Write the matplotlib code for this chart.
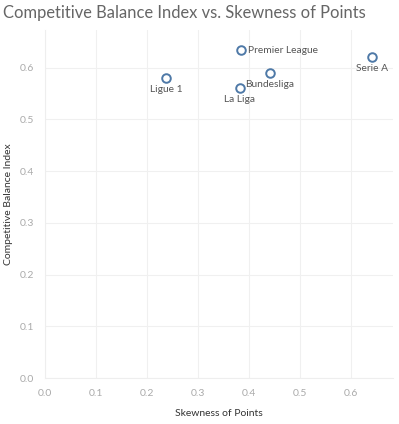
import matplotlib
matplotlib.use("Agg")
import matplotlib.pyplot as plt

leagues = ["Premier League", "Serie A", "Ligue 1", "Bundesliga", "La Liga"]
skewness = [0.385, 0.641, 0.237, 0.441, 0.382]
cbi = [0.634, 0.621, 0.580, 0.590, 0.560]
label_pos = ["right", "below", "below", "below", "below"]
ticks = [0.0, 0.1, 0.2, 0.3, 0.4, 0.5, 0.6]

plt.rcParams['font.family'] = ['Lato', 'DejaVu Sans']

W, H = 399, 424
fig = plt.figure(figsize=(W/100, H/100), dpi=100)
ax = fig.add_axes([45/W, (H-378)/H, (393-45)/W, (378-30)/H])

ax.scatter(skewness, cbi, s=38, facecolors='white', edgecolors='#4e79a7', linewidths=1.4, zorder=3)
for name, x, y, p in zip(leagues, skewness, cbi, label_pos):
    if p == "right":
        ax.annotate(name, (x, y), xytext=(5, 0), textcoords='offset points', ha='left', va='center',
                    fontsize=7.4, color='#555555')
    else:
        ax.annotate(name, (x, y), xytext=(0, -5), textcoords='offset points', ha='center', va='top',
                    fontsize=7.4, color='#555555')

ax.set_xlim(0, 0.682)
ax.set_ylim(0, 0.673)
ax.set_xticks(ticks)
ax.set_yticks(ticks)
ax.set_xticklabels([f"{t:.1f}" for t in ticks])
ax.set_yticklabels([f"{t:.1f}" for t in ticks])
ax.tick_params(length=0, labelsize=7.5, labelcolor='#aaaaaa', pad=8)
ax.grid(True, color='#f0f0f0', linewidth=0.8)
ax.set_axisbelow(True)
for s in ['top', 'right']:
    ax.spines[s].set_visible(False)
for s in ['left', 'bottom']:
    ax.spines[s].set_color('#eeeeee')
    ax.spines[s].set_linewidth(0.8)

ax.set_xlabel("Skewness of Points", fontsize=7.5, color='#333333', labelpad=8)
ax.set_ylabel("Competitive Balance Index", fontsize=7.5, color='#333333')
ax.yaxis.set_label_coords((13 - 45) / 348, 0.5)
fig.text(3/W, 1 - 13/H, "Competitive Balance Index vs. Skewness of Points", fontsize=11.9,
         color='#666666', ha='left', va='center')

fig.savefig("out.png", dpi=100)
